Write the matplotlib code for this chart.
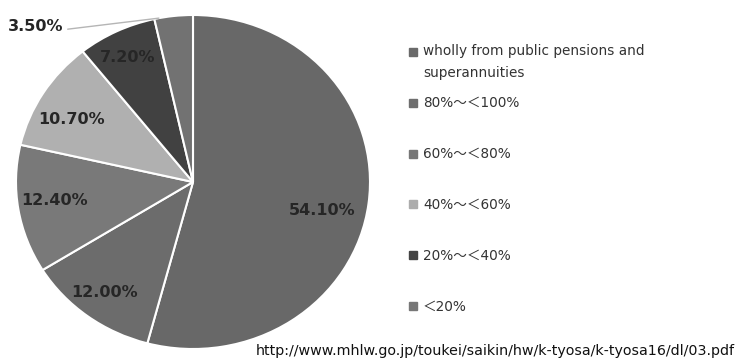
import numpy as np
import matplotlib
matplotlib.use("Agg")
import matplotlib.pyplot as plt
from matplotlib.lines import Line2D

# data
labels = ['wholly from public pensions and\nsuperannuities',
          '80%～＜100%', '60%～＜80%', '40%～＜60%', '20%～＜40%', '＜20%']
values = [54.1, 12.0, 12.4, 10.7, 7.2, 3.5]
colors = ['#686868', '#6c6c6c', '#797979', '#b0b0b0', '#414141', '#727272']
legend_colors = ['#6a6a6a', '#6e6e6e', '#777777', '#acacac', '#444444', '#777777']
source = 'http://www.mhlw.go.jp/toukei/saikin/hw/k-tyosa/k-tyosa16/dl/03.pdf'

W, H = 739, 360
fig = plt.figure(figsize=(W / 100, H / 100), dpi=100)
fig.patch.set_facecolor('white')

# pie box in pixels: left 16, right 370, top 15, bottom 349 (slightly squashed)
ax = fig.add_axes([16 / W, (H - 349) / H, 354 / W, 334 / H])
wedges, _ = ax.pie(values, colors=colors, startangle=90, counterclock=False,
                   radius=1.0,
                   wedgeprops=dict(edgecolor='white', linewidth=1.5))
ax.set_aspect('auto')
ax.set_xlim(-1, 1)
ax.set_ylim(-1, 1)
ax.axis('off')

# inside labels
label_r = [0.75, 0.83, 0.79, 0.78, 0.83]
label_shift = [-5.6, -0.4, -1.4, 3.4, 0.8]
for i, w in enumerate(wedges[:5]):
    mid = np.deg2rad((w.theta1 + w.theta2) / 2 + label_shift[i])
    ax.text(label_r[i] * np.cos(mid), label_r[i] * np.sin(mid), f'{values[i]:.2f}%',
            ha='center', va='center', fontsize=11.5, fontweight='bold',
            color='#262626', family='DejaVu Sans')

# small wedge: label outside with leader line
w = wedges[5]
tip = np.deg2rad(w.theta2 - 1.5)
ax.annotate(f'{values[5]:.2f}%', xy=(np.cos(tip), np.sin(tip)),
            xytext=(-1.045, 0.93), textcoords='data',
            ha='left', va='center', fontsize=11.5, fontweight='bold',
            color='#262626', family='DejaVu Sans',
            arrowprops=dict(arrowstyle='-', color='#b5b5b5', lw=1,
                            shrinkA=1, shrinkB=0, relpos=(1.0, 0.3)),
            annotation_clip=False)

# legend drawn by hand so the two-line entry keeps the even row spacing
row0, step, line_gap = 52, 50.8, 21
for i, (lab, c) in enumerate(zip(labels, legend_colors)):
    y = 1 - (row0 + i * step) / H
    extra = (lab.count('\n')) * line_gap
    fig.add_artist(Line2D([413 / W], [y], marker='s', ms=6, color=c,
                          linestyle='none', transform=fig.transFigure))
    fig.text(423 / W, y - (4.5 + extra) / H, lab, ha='left', va='baseline',
             fontsize=9.8, color='#333333',
             family=['DejaVu Sans', 'Noto Sans CJK JP'], linespacing=1.75)

fig.text(735 / W, 1 - 351 / H, source, ha='right', va='center', fontsize=10.3,
         color='#111111', family='DejaVu Sans')

fig.savefig('out.png', dpi=100, facecolor='white')
